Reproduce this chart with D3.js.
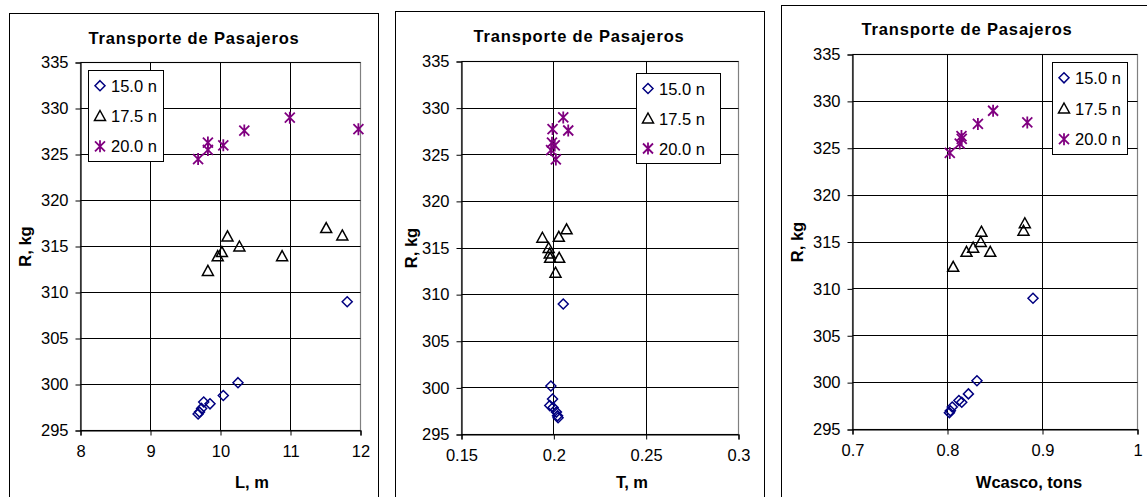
<!DOCTYPE html>
<html><head><meta charset="utf-8">
<script src="https://cdn.jsdelivr.net/npm/d3@7"></script>
<style>
html,body{margin:0;padding:0;background:#fff;}
svg{display:block;font-family:Arial,"Liberation Sans",sans-serif;}
</style></head>
<body>
<svg id="c" width="1147" height="497"></svg>
<script>
// ---- data ----
const chartTitle = "Transporte de Pasajeros";
const seriesNames = ["15.0 n", "17.5 n", "20.0 n"];
const yLabel = "R, kg";
const yTicks = [295, 300, 305, 310, 315, 320, 325, 330, 335];

// R (kg) per series
const R15 = [296.8, 297.0, 297.4, 298.1, 297.9, 298.8, 300.2, 309.0];
const R175 = [312.35, 313.95, 314.4, 316.1, 315.0, 313.95, 317.0, 316.2];
const R20 = [324.5, 325.5, 326.3, 326.0, 327.6, 329.0, 327.75];

// L (m)
const L15 = [9.68, 9.70, 9.73, 9.76, 9.85, 10.04, 10.25, 11.81];
const L175 = [9.82, 9.96, 10.02, 10.10, 10.27, 10.88, 11.51, 11.74];
const L20 = [9.68, 9.82, 9.82, 10.04, 10.34, 10.99, 11.97];
const xTicksL = [8, 9, 10, 11, 12];

// T (m)
const T15 = [0.2023, 0.2020, 0.2014, 0.1978, 0.1996, 0.1993, 0.1984, 0.2051];
const T175 = [0.2009, 0.1980, 0.1978, 0.1938, 0.1972, 0.2029, 0.2069, 0.2027];
const T20 = [0.2011, 0.1985, 0.1990, 0.2005, 0.2078, 0.2051, 0.1993];
const xTicksT = [0.15, 0.2, 0.25, 0.3];

// Wcasco (tons)
const W15 = [0.802, 0.803, 0.805, 0.812, 0.815, 0.822, 0.831, 0.890];
const W175 = [0.806, 0.820, 0.827, 0.8357, 0.835, 0.845, 0.8814, 0.880];
const W20 = [0.8024, 0.8129, 0.8147, 0.815, 0.832, 0.848, 0.884];
const xTicksW = [0.7, 0.8, 0.9, 1];

// ---- layout ----
const panels = [
  {frame:[9.5,13.5,378.5,520], plot:[80.5,62.5,360.5,430.5], xs:[L15,L175,L20], xTicks:xTicksL, xLabel:"L, m",
   titleX:194, titleY:44, xLabX:252, xLabY:488, yLabX:31, legend:[88.5,70.5,163.5,161.5]},
  {frame:[395.5,11.5,764.5,520], plot:[461.5,61.5,738.5,434.5], xs:[T15,T175,T20], xTicks:xTicksT, xLabel:"T, m",
   titleX:579, titleY:42, xLabX:632, xLabY:488, yLabX:417, legend:[636.5,73.5,720.5,163.5]},
  {frame:[781.5,5.5,1160,520], plot:[852.5,54.5,1137.5,429.5], xs:[W15,W175,W20], xTicks:xTicksW, xLabel:"Wcasco, tons",
   titleX:967, titleY:35, xLabX:1029, xLabY:488, yLabX:803, legend:[1052.5,62.5,1127.5,154.5]}
];
const Rs = [R15, R175, R20];
const colors = ["#000080", "#000000", "#800080"];
const FS = 16.5;

function markerPath(k, x, y) {
  if (k === 0) { const s = 5; return `M${x},${y-s}L${x+s},${y}L${x},${y+s}L${x-s},${y}Z`; }
  if (k === 1) { const w = 5.5, h = 5; return `M${x},${y-h-0.5}L${x+w},${y+h-0.5}L${x-w},${y+h-0.5}Z`; }
  const s = 5.5, d = 5;
  return `M${x},${y-s-0.5}L${x},${y+s+0.5}M${x-d},${y-d}L${x+d},${y+d}M${x-d},${y+d}L${x+d},${y-d}`;
}

const svg = d3.select("#c");
panels.forEach(p => {
  const g = svg.append("g");
  const [fx0, fy0, fx1, fy1] = p.frame;
  g.append("rect").attr("x", fx0).attr("y", fy0).attr("width", fx1 - fx0).attr("height", fy1 - fy0)
    .attr("fill", "#fff").attr("stroke", "#000").attr("stroke-width", 1);
  const [px0, py0, px1, py1] = p.plot;
  const x = d3.scaleLinear().domain([p.xTicks[0], p.xTicks[p.xTicks.length - 1]]).range([px0, px1]);
  const y = d3.scaleLinear().domain([295, 335]).range([py1, py0]);

  // plot border (gray)
  g.append("rect").attr("x", px0).attr("y", py0).attr("width", px1 - px0).attr("height", py1 - py0)
    .attr("fill", "none").attr("stroke", "#808080").attr("stroke-width", 1.2);
  // gridlines
  g.selectAll(".hg").data(yTicks).join("line")
    .attr("x1", px0).attr("x2", px1).attr("y1", d => Math.round(y(d) - 0.5) + 0.5).attr("y2", d => Math.round(y(d) - 0.5) + 0.5)
    .attr("stroke", "#000").attr("stroke-width", 1);
  g.selectAll(".vg").data(p.xTicks.slice(1, -1)).join("line")
    .attr("y1", py0).attr("y2", py1).attr("x1", d => Math.round(x(d) - 0.5) + 0.5).attr("x2", d => Math.round(x(d) - 0.5) + 0.5)
    .attr("stroke", "#000").attr("stroke-width", 1);

  // axes
  const ya = d3.axisLeft(y).tickValues(yTicks).tickSize(5).tickPadding(7).tickFormat(d => String(d));
  const yg = g.append("g").attr("transform", `translate(${px0},0)`).call(ya);
  const xa = d3.axisBottom(x).tickValues(p.xTicks).tickSize(5).tickPadding(10).tickFormat(d => String(d));
  const xg = g.append("g").attr("transform", `translate(0,${py1})`).call(xa);
  [yg, xg].forEach(a => {
    a.select(".domain").attr("stroke", "#000").attr("stroke-width", 1.2);
    a.selectAll(".tick line").attr("stroke", "#000");
    a.selectAll("text").attr("font-size", FS).attr("fill", "#000").attr("font-family", "Arial, 'Liberation Sans', sans-serif");
  });

  // titles
  g.append("text").attr("x", p.titleX).attr("y", p.titleY).attr("text-anchor", "middle")
    .attr("font-size", 16.5).attr("font-weight", "bold").attr("letter-spacing", 0.85).text(chartTitle);
  g.append("text").attr("x", p.xLabX).attr("y", p.xLabY).attr("text-anchor", "middle")
    .attr("font-size", 16.5).attr("font-weight", "bold").text(p.xLabel);
  g.append("text").attr("transform", `translate(${p.yLabX},${(py0 + py1) / 2}) rotate(-90)`).attr("text-anchor", "middle")
    .attr("font-size", 16.5).attr("font-weight", "bold").text(yLabel);

  // points
  seriesNames.forEach((s, k) => {
    const xsArr = p.xs[k], rsArr = Rs[k];
    g.append("g").selectAll("path").data(d3.range(xsArr.length)).join("path")
      .attr("d", i => markerPath(k, x(xsArr[i]), y(rsArr[i])))
      .attr("fill", "none").attr("stroke", colors[k]).attr("stroke-width", k === 2 ? 1.8 : 1.5);
  });

  // legend
  const [lx0, ly0, lx1, ly1] = p.legend;
  g.append("rect").attr("x", lx0).attr("y", ly0).attr("width", lx1 - lx0).attr("height", ly1 - ly0)
    .attr("fill", "#fff").attr("stroke", "#000").attr("stroke-width", 1);
  const rowH = (ly1 - ly0) / 3;
  seriesNames.forEach((s, k) => {
    const cy = ly0 + rowH * (k + 0.5);
    g.append("path").attr("d", markerPath(k, lx0 + 11.5, cy)).attr("fill", "none")
      .attr("stroke", colors[k]).attr("stroke-width", k === 2 ? 1.8 : 1.5);
    g.append("text").attr("x", lx0 + 22.5).attr("y", cy + 6).attr("font-size", FS).text(s);
  });
});
</script>
</body></html>
